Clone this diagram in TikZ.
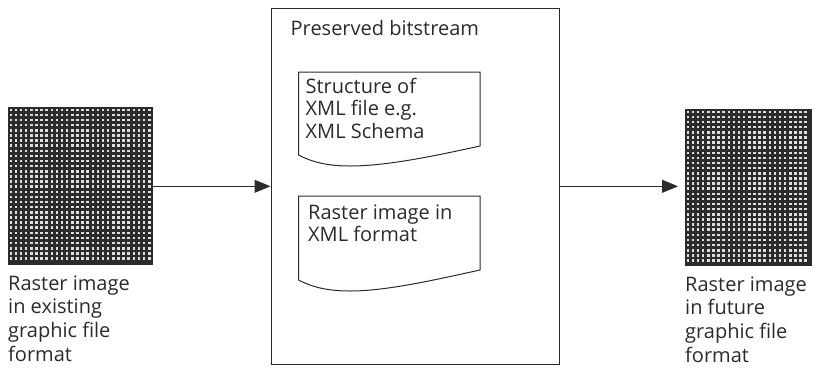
\documentclass[tikz,border=0pt]{standalone}
\usepackage{fontspec}
\setmainfont{Open Sans}
\usetikzlibrary{arrows.meta}
\definecolor{ink}{HTML}{2B2B2B}
\tikzset{
  label text/.style={anchor=north west,inner sep=0pt,align=left,text=ink,font=\fontsize{20}{23.6}\selectfont},
  doc text/.style={label text,font=\fontsize{20}{22.4}\selectfont},
  raster/.style={draw=ink,fill=ink,line width=1pt,inner sep=0pt,anchor=north west},
  frame/.style={draw=ink,line width=1.1pt,inner sep=0pt,anchor=north west},
  link/.style={draw=ink,line width=1pt,-{Triangle[length=16pt,width=13pt]}},
}
\newcommand{\rastercells}[4]{% x0,y0,cols,rows
  \foreach \i in {1,...,#3}{\foreach \j in {1,...,#4}{
    \fill[white!85!ink] ({#1+1.5+(\i-1)*5.13},{#2+1.5+(\j-1)*5.13}) rectangle ++(2.5,2.5);
  }}}
\begin{document}
\begin{tikzpicture}[x=1pt,y=-1pt]
\useasboundingbox (0,0) rectangle (825,368);
% rasters
\node[raster,minimum width=143.5pt,minimum height=157pt] (left) at (8,107) {};
\rastercells{8}{107}{28}{30}
\node[raster,minimum width=126pt,minimum height=156pt] (right) at (685,109) {};
\rastercells{685}{109}{24}{30}
% main box
\node[frame,minimum width=288pt,minimum height=355.5pt] (box) at (270.5,8) {};
\node[label text] (title) at (290.5,20) {Preserved bitstream};
% documents
\coordinate (d1a) at (298.5,72); \coordinate (d1b) at (480,72);
\coordinate (d1c) at (480,146); \coordinate (d1d) at (298.5,155);
\draw[draw=ink,line width=1pt,line join=miter] (d1d) -- (d1a) -- (d1b) -- (d1c)
  .. controls (430,157) and (385,166) .. (350,166) .. controls (325,166) and (310,161) .. (d1d);
\node[doc text] (t1) at (305.5,78) {Structure of\\XML file e.g.\\XML Schema};
\coordinate (d2a) at (298.5,196); \coordinate (d2b) at (480,196);
\coordinate (d2c) at (480,270); \coordinate (d2d) at (298.5,280);
\draw[draw=ink,line width=1pt,line join=miter] (d2d) -- (d2a) -- (d2b) -- (d2c)
  .. controls (430,281) and (385,291) .. (350,291) .. controls (325,291) and (310,286) .. (d2d);
\node[doc text] (t2) at (308,204.5) {Raster image in\\XML format};
% labels
\node[label text] (ll) at (8,275.5) {Raster image\\in existing\\graphic file\\format};
\node[label text] (rl) at (685,276.5) {Raster image\\in future\\graphic file\\format};
% connectors
\draw[link] (left.east |- box.west) -- (box.west);
\draw[link,shorten >=7pt] (box.east) -- (box.east -| right.west);
\end{tikzpicture}
\end{document}
